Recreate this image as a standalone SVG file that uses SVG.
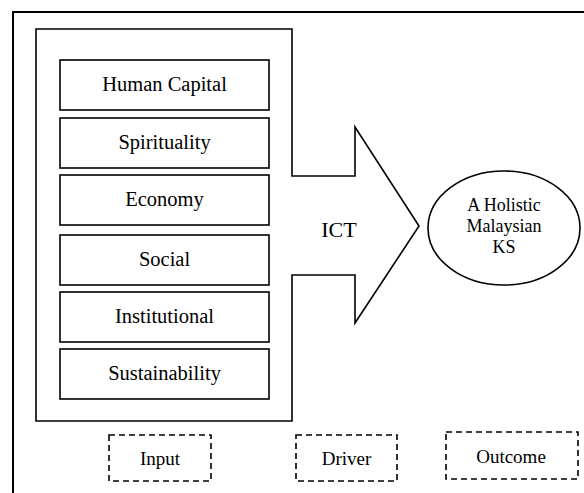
<svg xmlns="http://www.w3.org/2000/svg" width="584" height="493" viewBox="0 0 584 493">
<style>
text{font-family:'Liberation Serif','Times New Roman',serif;fill:#000;text-anchor:middle}
.box{fill:#fff;stroke:#000;stroke-width:1.6}
.dash{fill:none;stroke:#000;stroke-width:1.6;stroke-dasharray:6,4}
.lbl{font-size:20.5px}
.ell{font-size:18px}
.tag{font-size:19px}
</style>
<rect width="584" height="493" fill="#fff"/>
<g id="frame"><rect x="13" y="12" width="600" height="500" fill="none" stroke="#000" stroke-width="2"/></g>
<g id="arrow">
<path d="M36,29 H292 V176 H355 V127 L419,226 L355,323 V275 H292 V421 H36 Z" fill="#fff" stroke="#000" stroke-width="1.6"/>
<text x="339" y="237" style="font-size:22px">ICT</text>
</g>
<g id="human-capital"><rect class="box" x="60" y="60" width="209" height="50"/><text class="lbl" x="164.5" y="91">Human Capital</text></g>
<g id="spirituality"><rect class="box" x="60" y="118" width="209" height="50"/><text class="lbl" x="164.5" y="149">Spirituality</text></g>
<g id="economy"><rect class="box" x="60" y="175" width="209" height="50"/><text class="lbl" x="164.5" y="206">Economy</text></g>
<g id="social"><rect class="box" x="60" y="235" width="209" height="50"/><text class="lbl" x="164.5" y="266">Social</text></g>
<g id="institutional"><rect class="box" x="60" y="292" width="209" height="50"/><text class="lbl" x="164.5" y="323">Institutional</text></g>
<g id="sustainability"><rect class="box" x="60" y="349" width="209" height="50"/><text class="lbl" x="164.5" y="380">Sustainability</text></g>
<g id="outcome-ellipse">
<ellipse cx="504" cy="228" rx="76" ry="57" fill="#fff" stroke="#000" stroke-width="1.6"/>
<text class="ell" x="504" y="211">A Holistic</text>
<text class="ell" x="504" y="232">Malaysian</text>
<text class="ell" x="504" y="253">KS</text>
</g>
<g id="input"><rect class="dash" x="109" y="435" width="102" height="46"/><text class="tag" x="160" y="465">Input</text></g>
<g id="driver"><rect class="dash" x="296" y="435" width="101" height="46"/><text class="tag" x="346.5" y="465">Driver</text></g>
<g id="outcome"><rect class="dash" x="446" y="432" width="132" height="47"/><text class="tag" x="511" y="463">Outcome</text></g>
<g id="connectors"></g>
</svg>
